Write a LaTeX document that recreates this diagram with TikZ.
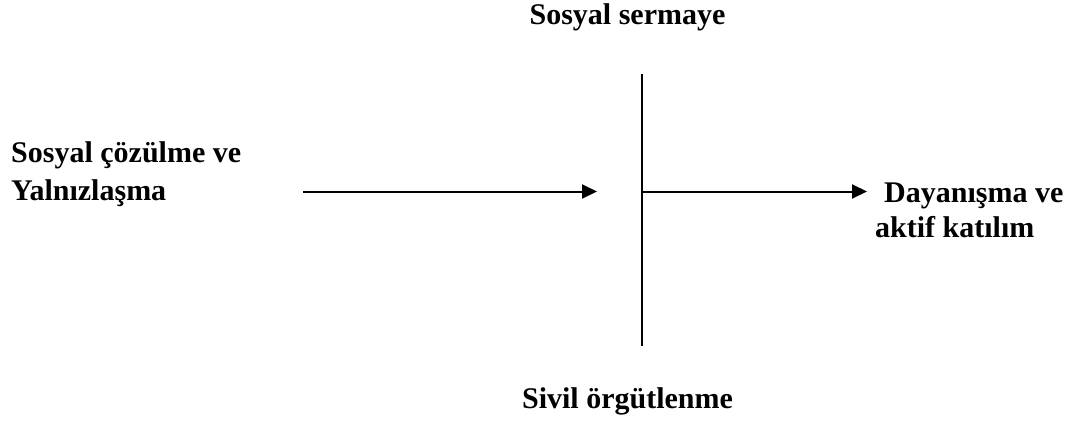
\documentclass[tikz,border=0pt]{standalone}
\usepackage{fontspec}
\setmainfont{Liberation Serif}
\usetikzlibrary{arrows.meta}
\begin{document}
\begin{tikzpicture}[x=1pt,y=-1pt,
  lbl/.style={font=\fontsize{30}{38}\selectfont\bfseries, inner sep=0pt},
  ln/.style={line width=2pt},
  arr/.style={ln,-{Triangle[length=15pt,width=14pt]}}]
\useasboundingbox[fill=white] (0,0) rectangle (1070,420);
\node[lbl, anchor=base] (top) at (627.5,25) {Sosyal sermaye};
\node[lbl, anchor=base] (bot) at (627.5,408) {Sivil örgütlenme};
\node[lbl, anchor=base west] (l1) at (11,162) {Sosyal çözülme ve};
\node[lbl, anchor=base west] (l2) at (11,200) {Yalnızlaşma};
\node[lbl, anchor=base west] (r1) at (884,202) {Dayanışma ve};
\node[lbl, anchor=base west] (r2) at (875,237) {aktif katılım};
\coordinate (vt) at (642,74);
\coordinate (vb) at (642,346);
\coordinate (la) at (303,191.5);
\coordinate (lb) at (597,191.5);
\coordinate (ra) at (642,191.5);
\coordinate (rb) at (867,191.5);
\draw[ln] (vt) -- (vb);
\draw[arr] (la) -- (lb);
\draw[arr] (ra) -- (rb);
\end{tikzpicture}
\end{document}
